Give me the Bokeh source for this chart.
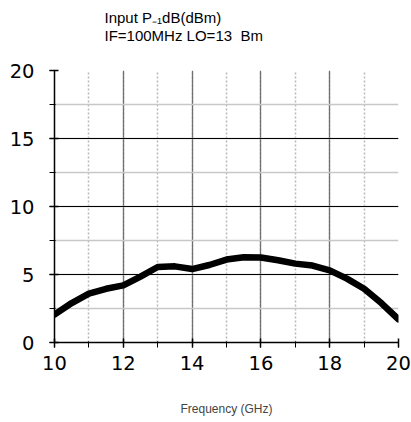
from bokeh.plotting import figure
from bokeh.models import Title, Range1d, FixedTicker
from bokeh.embed import file_html
from bokeh.resources import INLINE

freq_ghz = [10, 10.5, 11, 11.5, 12, 12.5, 13, 13.5, 14, 14.5, 15, 15.5, 16, 16.5, 17, 17.5, 18, 18.5, 19, 19.5, 20]
p1db_dbm = [2.05, 2.9, 3.6, 3.95, 4.2, 4.85, 5.55, 5.6, 5.4, 5.7, 6.1, 6.27, 6.25, 6.05, 5.8, 5.66, 5.3, 4.7, 3.95, 2.9, 1.7]

x_ticks = [10, 12, 14, 16, 18, 20]
y_ticks = [0, 5, 10, 15, 20]
title_lines = ["Input P\u208b\u2081dB(dBm)", "IF=100MHz LO=13\u00a0\u00a0Bm", "\u00a0"]

p = figure(width=411, height=422, output_backend="svg", toolbar_location=None,
           x_range=Range1d(10, 20), y_range=Range1d(0, 20),
           min_border_left=54, min_border_right=13, min_border_top=70, min_border_bottom=80)

p.add_layout(Title(text="\n".join(title_lines), align="left", offset=50, standoff=13,
                   vertical_align="top",
                   text_font="Liberation Sans", text_font_size="15px", text_font_style="normal",
                   text_line_height=1.06, text_color="#000000"), "above")

p.outline_line_color = None
p.background_fill_color = "white"
p.border_fill_color = "white"

p.xaxis.ticker = FixedTicker(ticks=x_ticks, minor_ticks=list(range(10, 21)))
p.yaxis.ticker = FixedTicker(ticks=y_ticks, minor_ticks=[i * 2.5 for i in range(9)])

for ax in (p.xaxis, p.yaxis):
    ax.axis_line_color = "black"
    ax.axis_line_width = 1.5
    ax.major_tick_line_color = "black"
    ax.minor_tick_line_color = "black"
    ax.major_tick_line_width = 1.5
    ax.minor_tick_line_width = 1
    ax.major_tick_out = 5
    ax.major_tick_in = 4
    ax.minor_tick_out = 5
    ax.minor_tick_in = 1
    ax.major_label_text_font = "DejaVu Sans"
    ax.major_label_text_font_size = "19.5px"
    ax.major_label_text_color = "black"

p.yaxis.major_label_standoff = 15
p.xaxis.major_label_standoff = 8

p.xaxis.axis_label = "Frequency (GHz)"
p.xaxis.axis_label_text_font = "Liberation Sans"
p.xaxis.axis_label_text_font_size = "12px"
p.xaxis.axis_label_text_font_style = "normal"
p.xaxis.axis_label_standoff = 29

p.xgrid.grid_line_color = "#707070"
p.xgrid.grid_line_width = 1.3
p.xgrid.minor_grid_line_color = "#b8b8b8"
p.xgrid.minor_grid_line_dash = "2 2"
p.xgrid.minor_grid_line_width = 1.5
p.ygrid.grid_line_color = "black"
p.ygrid.grid_line_width = 1.2
p.ygrid.minor_grid_line_color = "#c8c8c8"
p.ygrid.minor_grid_line_width = 1.5

p.line(freq_ghz, p1db_dbm, line_color="black", line_width=6.5, line_join="round", line_cap="round")

open("out.html", "w").write(file_html(p, INLINE))
